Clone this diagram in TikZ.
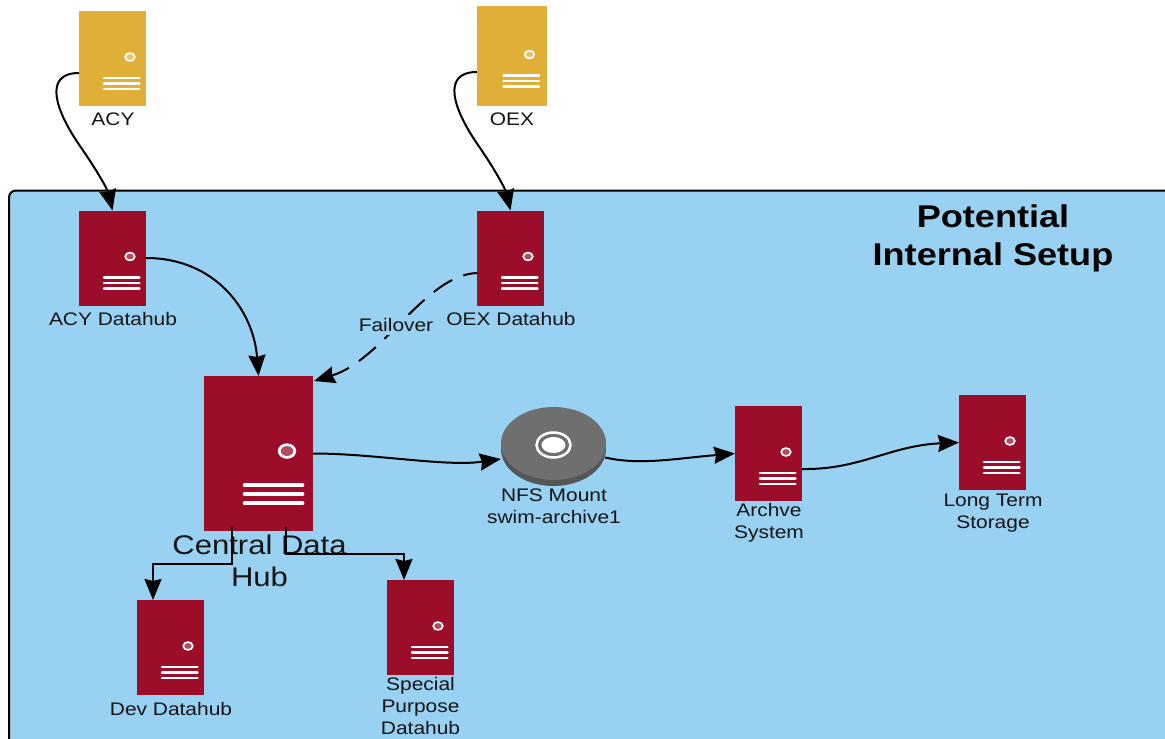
\documentclass[tikz,border=0pt]{standalone}
\usepackage{fontspec}
\setmainfont[FakeStretch=1.15]{Liberation Sans}
\usepackage{xcolor}
\usetikzlibrary{arrows.meta,shapes.geometric,positioning}
\definecolor{crimson}{HTML}{9B0D28}
\definecolor{gold}{HTML}{E0AF37}
\definecolor{panelblue}{HTML}{99D1F3}
\definecolor{diskgray}{HTML}{6F6F6F}
\definecolor{diskedge}{HTML}{565656}
\definecolor{ink}{HTML}{141414}
% door lamp and the three slots, placed from the centre of a server box
\newcommand{\servermarks}[4]{
 \begin{scope}[shift={(#1.center)}, scale=#2, line width=#3]
  \draw [white, line width=0.7*#3, fill=#4!75!white] (17.5,-1.5) ellipse [x radius=4.8, y radius=3.9];
  \foreach \slot in {19.5,24.8,30.5}
   \draw [white, line cap=round] (-8.5,\slot) -- (27,\slot);
 \end{scope}
}
\begin{document}
\begin{tikzpicture}[x=1pt, y=-1pt, node distance=100pt, font=\fontsize{18.2}{22}\selectfont, text=ink]
 % We define the styles for the boxes, the labels and the arrows
 \tikzset{
server/.style = {rectangle, fill=crimson, minimum width=67pt, minimum height=95pt, inner sep=0pt, outer sep=0pt},
tapserver/.style = {server, fill=gold},
hubserver/.style = {server, minimum width=109pt, minimum height=155pt},
label/.style = {align=center, inner sep=0pt},
line/.style = {draw, -{Stealth[length=21pt,width=17pt,inset=2pt]}, line width=2pt, black},
}
 \clip (0,0) rectangle (1165,739);

 % Panel behind the internal setup
 \draw [fill=panelblue, draw=black, line width=2pt, rounded corners=7pt] (9,190.5) rectangle (1200,780);
 \node [label, font=\fontsize{31.4}{38}\selectfont\bfseries, text=black] (title) at (993,238) {Potential\\Internal Setup};

 % Incoming servers
 \node [tapserver] (acy) at (112.5,58.5) {};
 \node [below of=acy, node distance=60.5pt, label, xshift=0.5pt] (acylabel) {ACY};
 \node [tapserver, minimum width=70pt, minimum height=100pt] (oex) at (512,56) {};
 \node [below of=oex, node distance=63pt, label] (oexlabel) {OEX};

 % Datahubs
 \node [server, below of=acy, node distance=199.5pt] (acyhub) {};
 \node [below of=acyhub, node distance=60.5pt, label, xshift=0.5pt] (acyhublabel) {ACY Datahub};
 \node [server, right of=acyhub, node distance=398pt] (oexhub) {};
 \node [below of=oexhub, node distance=60.5pt, label, xshift=0.5pt] (oexhublabel) {OEX Datahub};

 % Central data hub
 \node [hubserver] (central) at (258.5,453.5) {};
 \node [below of=central, node distance=107pt, label, xshift=1pt, font=\fontsize{27}{32}\selectfont] (centrallabel) {Central Data\\Hub};

 % Datahubs below the central one
 \node [server] (dev) at (170.5,647.5) {};
 \node [below of=dev, node distance=61pt, label, xshift=0.5pt] (devlabel) {Dev Datahub};
 \node [server] (special) at (420.5,627.5) {};
 \node [below of=special, node distance=78.5pt, label] (speciallabel) {Special\\Purpose\\Datahub};

 % Disk, archive and storage
 \node [ellipse, fill=diskedge, minimum width=105pt, minimum height=74pt, inner sep=0pt] (diskshade) at (553.5,449) {};
 \node [ellipse, fill=diskgray, minimum width=105pt, minimum height=73pt, inner sep=0pt] (disk) at (553.5,443.5) {};
 \node [ellipse, draw=white, fill=diskgray, line width=2.5pt, minimum width=34pt, minimum height=25pt, inner sep=0pt] (diskring) at (553.5,445) {};
 \node [ellipse, fill=white, minimum width=24pt, minimum height=16pt, inner sep=0pt] (diskhole) at (553.5,445) {};
 \node [below of=diskshade, node distance=57.5pt, label, xshift=0.5pt] (disklabel) {NFS Mount\\swim-archive1};
 \node [server] (archive) at (768.5,453.5) {};
 \node [below of=archive, node distance=69pt, label, xshift=0.5pt] (archivelabel) {Archve\\System};
 \node [server] (storage) at (992.5,442.5) {};
 \node [below of=storage, node distance=68pt, label, yshift=-3pt, xshift=0.5pt] (storagelabel) {Long Term\\Storage};

 \servermarks{acy}{1}{2.4pt}{gold}
 \servermarks{oex}{1}{2.4pt}{gold}
 \servermarks{acyhub}{1}{2.4pt}{crimson}
 \servermarks{oexhub}{1}{2.4pt}{crimson}
 \servermarks{central}{1.63}{3.8pt}{crimson}
 \servermarks{dev}{1}{2.4pt}{crimson}
 \servermarks{special}{1}{2.4pt}{crimson}
 \servermarks{archive}{1}{2.4pt}{crimson}
 \servermarks{storage}{1}{2.4pt}{crimson}

 % Arrows
 \draw [line] ([yshift=-14.5pt]acy.west) .. controls +(-36,0) and +(-25,-36) .. ++(1,73) .. controls +(18,26) and +(-5,-21) .. (acyhub.north);
 \draw [line] ([yshift=-16pt]oex.west) .. controls +(-36,0) and +(-25,-36) .. ++(1,73) .. controls +(18,26) and +(-5,-21) .. (oexhub.north);
 \draw [line] (acyhub.east) .. controls +(69,0) and +(-5,-66) .. (central.north);
 \draw [line, dash pattern=on 22pt off 12pt, dash phase=8pt] ([yshift=-15pt]oexhub.west) .. controls +(-52,2) and +(69,-21) .. ([xshift=1pt,yshift=-5pt]central.north east);
 \node [label, fill=panelblue, inner sep=3pt] (failover) at (396,325) {Failover};
 \draw [line] (central.east) .. controls +(62,0) and +(-55,8) .. ([yshift=-15.5pt]disk.west);
 \draw [line] ([xshift=-1pt,yshift=-14pt]disk.east) .. controls +(35,8) and +(-60,5) .. (archive.west);
 \draw [line] ([yshift=-15.5pt]archive.east) .. controls +(58,1) and +(-69,3) .. (storage.west);
 \draw [line] ([xshift=-27pt,yshift=4pt]central.south) -- ++(0,37) -| (dev.north -| 153,0);
 \draw [line] ([xshift=27.5pt,yshift=4pt]central.south) -- ++(0,27) -| (special.north -| 404,0);
\end{tikzpicture}
\end{document}
